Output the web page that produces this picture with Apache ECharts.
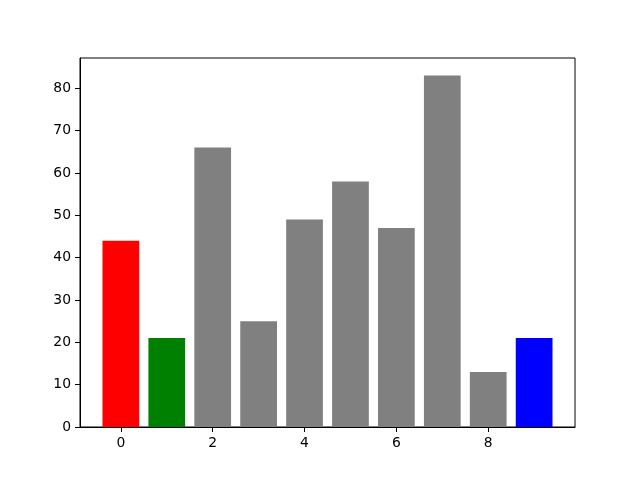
<!DOCTYPE html>
<html>
<head>
<meta charset="utf-8">
<script src="https://cdn.jsdelivr.net/npm/echarts@6/dist/echarts.min.js"></script>
<style>html,body{margin:0;padding:0;background:#fff;}#c{width:640px;height:480px;}</style>
</head>
<body>
<div id="c"></div>
<script>
const categories = [0, 1, 2, 3, 4, 5, 6, 7, 8, 9];
const values = [44, 21, 66, 25, 49, 58, 47, 83, 13, 21];
const barColors = ['#ff0000', '#008000', '#808080', '#808080', '#808080', '#808080', '#808080', '#808080', '#808080', '#0000ff'];
const xTicks = [0, 2, 4, 6, 8];
const yTicks = [0, 10, 20, 30, 40, 50, 60, 70, 80];

const barWidth = 0.8;
const xMin = -0.4 - 0.05 * (9.8);
const xMax = 9.4 + 0.05 * (9.8);
const yMax = Math.max(...values) * 1.05;

const chart = echarts.init(document.getElementById('c'), null, {renderer: 'canvas'});
const font = {fontFamily: 'DejaVu Sans', fontSize: 13.9, color: '#000'};
chart.setOption({
  animation: false,
  backgroundColor: '#fff',
  grid: {left: 80, right: 65, top: 58, bottom: 53, show: true, borderColor: '#000', borderWidth: 1, backgroundColor: 'transparent'},
  xAxis: {
    type: 'value', min: xMin, max: xMax,
    splitLine: {show: false},
    axisLine: {show: true, onZero: false, lineStyle: {color: '#000', width: 1}},
    axisTick: {show: true, length: 5, lineStyle: {color: '#000'}, customValues: xTicks},
    axisLabel: Object.assign({margin: 9, customValues: xTicks, formatter: v => String(v)}, font)
  },
  yAxis: {
    type: 'value', min: 0, max: yMax,
    splitLine: {show: false},
    axisLine: {show: true, onZero: false, lineStyle: {color: '#000', width: 1}},
    axisTick: {show: true, length: 5, lineStyle: {color: '#000'}, customValues: yTicks},
    axisLabel: Object.assign({margin: 9, customValues: yTicks, formatter: v => String(v)}, font)
  },
  series: [{
    type: 'custom',
    data: categories.map((c, i) => [c, values[i]]),
    renderItem: function (params, api) {
      const x = api.value(0), y = api.value(1);
      const p1 = api.coord([x - barWidth / 2, y]);
      const p2 = api.coord([x + barWidth / 2, 0]);
      return {
        type: 'rect',
        shape: {x: p1[0], y: p1[1], width: p2[0] - p1[0], height: p2[1] - p1[1]},
        style: {fill: barColors[params.dataIndex], stroke: null}
      };
    }
  }]
});
</script>
</body>
</html>
